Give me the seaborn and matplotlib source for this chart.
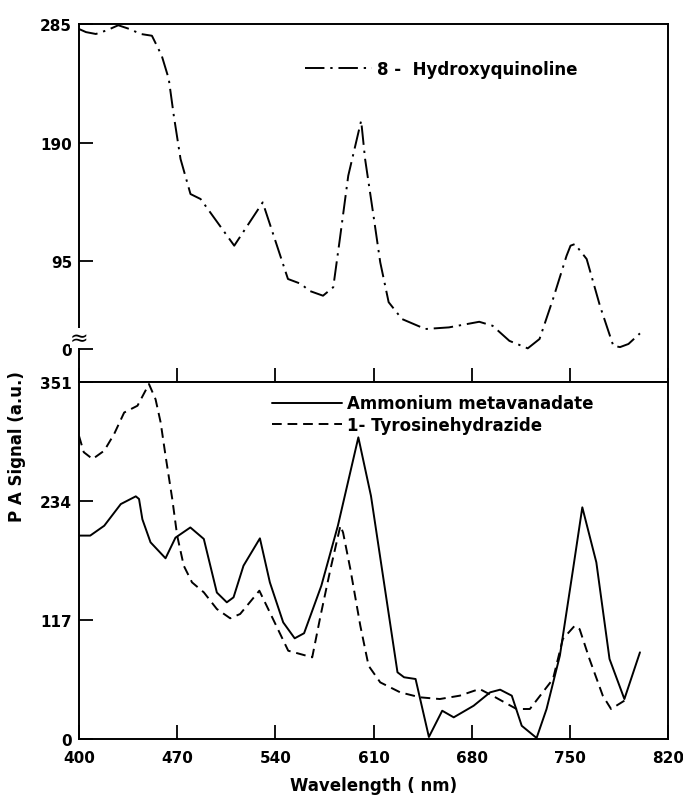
import numpy as np
import pandas as pd
import matplotlib
matplotlib.use("Agg")
import matplotlib.pyplot as plt
import seaborn as sns
from matplotlib.transforms import blended_transform_factory

# ---------------- data ----------------
hq_x = [400, 405, 412, 420, 428, 436, 444, 452, 459, 464, 467.6, 472.4, 479.5, 486.7,
        510.7, 531, 549, 558.5, 564, 574, 581.3, 586, 592, 601.2, 604, 610, 614.8,
        620.8, 630.3, 647, 663.8, 685.4, 694.9, 706.9, 720, 728.4, 738, 747.6, 750.5,
        753.6, 762, 771.5, 781, 785.8, 791.8, 800]
hq_y = [281, 278.5, 277, 280, 284, 281, 277, 275.6, 259.6, 241, 211.5, 176.8, 148.7,
        144.7, 107.3, 142, 80.6, 76.6, 71.2, 67.2, 74, 112.6, 163.4, 207.5, 176.8,
        131.3, 94, 62, 48.5, 40.5, 41.8, 46.3, 43.1, 31, 25, 32.5, 64.5, 99, 107.3,
        108.6, 96.6, 59, 27, 26, 28.5, 37]

am_x = [400, 408, 418, 429.8, 440.5, 442.8, 445.2, 451, 461.7, 468.8, 479.4, 489,
        498.3, 505.4, 510.2, 517.3, 529, 536.1, 545.6, 553.8, 560.5, 572.8, 584.6,
        599.2, 608.2, 627.1, 631.8, 640, 649.5, 659, 667.2, 681.4, 693.2, 700.3,
        708.6, 715.7, 726.3, 733.4, 742.9, 752.3, 758.9, 768.9, 778.3, 788.9, 800]
am_y = [200, 200, 209.7, 231, 238.6, 236, 216, 193.4, 177.7, 198, 208, 196.7,
        144, 134.4, 139.3, 170.4, 197.3, 154, 114.7, 99, 104, 150.7, 209.7,
        296.6, 239, 65.6, 60.7, 59, 2, 27.8, 21.3, 32.7, 45.9, 48.5,
        42.6, 13, 1, 29.5, 82, 167, 227.8, 173.7, 78.7, 39.3, 85.2]

ty_x = [400, 403.4, 409.7, 418, 425.1, 432.2, 441.7, 449.9, 454.6, 458.2, 461.7,
        466.5, 470, 474.7, 480.6, 489, 498.3, 507.8, 514.9, 528.6, 533.8, 549.2,
        566.3, 572.2, 579.3, 586.4, 588.3, 593.5, 600.6, 606.5, 614.8, 629, 643.1,
        657.3, 671.5, 685.6, 695.6, 712, 721.5, 738, 745, 753.5, 757, 764, 773.5,
        779.4, 788.9]
ty_y = [298, 282, 275.3, 283.5, 300, 321, 327.7, 349, 334, 311.4, 278.6,
        236, 200, 170.4, 154, 144.2, 127.8, 118.7, 122.9, 145.8, 131, 86.8,
        80.3, 121, 167, 209.7, 203, 167, 111.4, 72, 55.7, 45.9, 41,
        39.3, 42.6, 49.2, 42, 29.5, 29.5, 59, 98.3, 111.4, 108, 78.7, 42.6,
        29.5, 37.7]

x_ticks = [400, 470, 540, 610, 680, 750, 820]
top_tick_pos = [24.4, 95, 190, 285]
top_tick_lab = ["0", "95", "190", "285"]
bot_ticks = [0, 117, 234, 351]

label_hq = "8 -  Hydroxyquinoline"
label_am = "Ammonium metavanadate"
label_ty = "1- Tyrosinehydrazide"

# ---------------- figure ----------------
sns.set_style("ticks")
plt.rcParams['font.family'] = ['DejaVu Sans']
plt.rcParams['axes.linewidth'] = 1.4
for k in ("text.color", "axes.labelcolor", "xtick.color", "ytick.color",
          "axes.edgecolor"):
    plt.rcParams[k] = "black"

fig = plt.figure(figsize=(6.83, 8.04), dpi=100)
L, R = 79 / 683, 668 / 683
ax_top = fig.add_axes([L, 0.5236, R - L, 0.9689 - 0.5236])
ax_bot = fig.add_axes([L, 0.0796, R - L, 0.5236 - 0.0796])

df_hq = pd.DataFrame({"x": hq_x, "y": hq_y})
df_am = pd.DataFrame({"x": am_x, "y": am_y})
df_ty = pd.DataFrame({"x": ty_x, "y": ty_y})

sns.lineplot(data=df_hq, x="x", y="y", ax=ax_top, color="black", lw=1.4,
             linestyle=(0, (10, 3, 1.2, 3)), label=label_hq, sort=False)
sns.lineplot(data=df_am, x="x", y="y", ax=ax_bot, color="black", lw=1.4,
             linestyle="-", label=label_am, sort=False)
sns.lineplot(data=df_ty, x="x", y="y", ax=ax_bot, color="black", lw=1.4,
             linestyle=(0, (5, 3)), label=label_ty, sort=False)

for ax in (ax_top, ax_bot):
    ax.set_xlim(400, 820)
    ax.set_xticks(x_ticks)
    ax.set_xlabel("")
    ax.set_ylabel("")
    for s in ax.spines.values():
        s.set_visible(True)
        s.set_linewidth(1.4)
        s.set_color("black")
    ax.tick_params(axis="both", direction="in", length=10, width=1.3,
                   labelsize=11, pad=5, colors="black")
    for lab in ax.get_xticklabels() + ax.get_yticklabels():
        lab.set_fontweight("bold")

ax_top.set_ylim(-2, 285)
ax_top.set_yticks(top_tick_pos)
ax_top.set_yticklabels(top_tick_lab, fontweight="bold")
ax_top.tick_params(axis="x", labelbottom=False)

ax_bot.set_ylim(0, 351)
ax_bot.set_yticks(bot_ticks)
ax_bot.set_yticklabels([str(v) for v in bot_ticks], fontweight="bold")
ax_bot.tick_params(axis="x", pad=8)
ax_bot.set_xlabel("Wavelength ( nm)", fontsize=12, fontweight="bold", labelpad=8,
                  color="black")

# axis break mark on the top panel's y axis
tr = blended_transform_factory(ax_top.transAxes, ax_top.transData)
ax_top.text(0, 33, "\u2248", transform=tr, ha="center", va="center", fontsize=16,
            color="black", bbox=dict(fc="white", ec="none", pad=0), zorder=5,
            clip_on=False)

fig.text(0.025, 0.444, "P A Signal (a.u.)", rotation=90, ha="center", va="center",
         fontsize=12, fontweight="bold", color="black")

leg1 = ax_top.legend(loc="center left", bbox_to_anchor=(0.384, 0.874), frameon=False,
                     borderpad=0, borderaxespad=0, handlelength=4.0, handletextpad=0.3,
                     prop=dict(size=12, weight="bold"))
leg2 = ax_bot.legend(loc="center left", bbox_to_anchor=(0.328, 0.91), frameon=False,
                     borderpad=0, borderaxespad=0, handlelength=4.2, handletextpad=0.3,
                     labelspacing=0.2, prop=dict(size=12, weight="bold"))
for leg in (leg1, leg2):
    for t in leg.get_texts():
        t.set_color("black")

fig.savefig("out.png", dpi=100)
